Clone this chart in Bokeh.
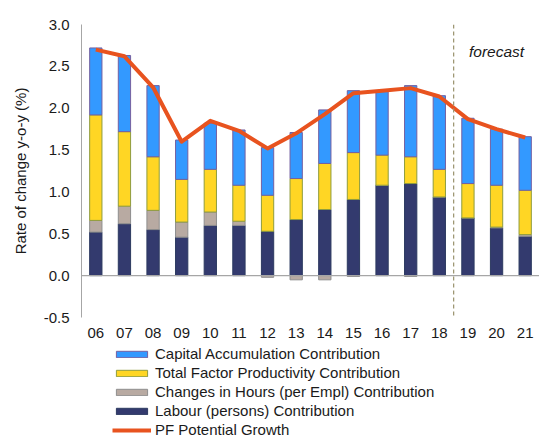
import numpy as np
from bokeh.plotting import figure
from bokeh.layouts import column
from bokeh.models import Span, Legend, LegendItem, ColumnDataSource, Range1d, FactorRange, CustomJSTickFormatter
from bokeh.core.properties import value
from bokeh.embed import file_html
from bokeh.resources import INLINE

years = ["06", "07", "08", "09", "10", "11", "12", "13", "14", "15", "16", "17", "18", "19", "20", "21"]
labour = [0.52, 0.62, 0.55, 0.46, 0.60, 0.60, 0.53, 0.67, 0.79, 0.91, 1.08, 1.10, 0.94, 0.69, 0.57, 0.47]
hours = [0.14, 0.21, 0.23, 0.18, 0.16, 0.05, -0.02, -0.05, -0.05, -0.01, 0.0, -0.01, 0.0, 0.0, 0.01, 0.02]
tfp = [1.26, 0.89, 0.64, 0.51, 0.51, 0.43, 0.43, 0.49, 0.55, 0.56, 0.36, 0.32, 0.33, 0.41, 0.50, 0.53]
capital = [0.80, 0.91, 0.85, 0.47, 0.55, 0.66, 0.57, 0.55, 0.64, 0.74, 0.77, 0.85, 0.88, 0.78, 0.67, 0.64]
potential = [2.70, 2.62, 2.25, 1.60, 1.85, 1.73, 1.52, 1.70, 1.93, 2.18, 2.21, 2.24, 2.14, 1.87, 1.75, 1.65]
forecast_start = "19"
y_ticks = [-0.5, 0.0, 0.5, 1.0, 1.5, 2.0, 2.5, 3.0]

FONT = "Liberation Sans"
# name, values, fill, outline  (stack order bottom -> top)
series = [
    ("Labour (persons) Contribution", labour, "#333a6e", "#2c3a60"),
    ("Changes in Hours (per Empl) Contribution", hours, "#b8aaa2", "#8e8e8e"),
    ("Total Factor Productivity Contribution", tfp, "#ffd624", "#8f9c3e"),
    ("Capital Accumulation Contribution", capital, "#3399ff", "#7560a0"),
]
legend_order = ["Capital Accumulation Contribution", "Total Factor Productivity Contribution",
                "Changes in Hours (per Empl) Contribution", "Labour (persons) Contribution"]
line_name = "PF Potential Growth"
line_color = "#e8531f"

p = figure(x_range=FactorRange(*years, range_padding=0), y_range=Range1d(-0.5, 3.0),
           width=539, height=344,
           min_border_left=81, min_border_top=24, min_border_right=0, min_border_bottom=27,
           output_backend="svg", toolbar_location=None, tools="")
p.outline_line_color = None
p.xgrid.visible = False
p.ygrid.visible = False

pos = np.zeros(len(years))
neg = np.zeros(len(years))
for name, vals, fill, line in series:
    v = np.array(vals)
    bottom = np.where(v >= 0, pos, neg)
    top = bottom + v
    pos = np.where(v >= 0, top, pos)
    neg = np.where(v < 0, top, neg)
    src = ColumnDataSource(dict(x=years, top=top, bottom=bottom))
    p.vbar(x="x", top="top", bottom="bottom", width=0.43, source=src,
           fill_color=fill, line_color=line, line_width=1)

p.add_layout(Span(location=0, dimension="width", line_color="#a6a6a6", line_width=1.2))
p.add_layout(Span(location=years.index(forecast_start), dimension="height", line_color="#9e9774",
                  line_width=1.3, line_dash="4 3"))

p.line(x=years, y=potential, line_color=line_color, line_width=4, line_join="round")

p.text(x=["20"], y=[2.68], text=["forecast"], text_font=value(FONT), text_font_size="15.5px",
       text_font_style="italic", text_align="center", text_baseline="middle", text_color="#1a1a1a")

p.yaxis.ticker = y_ticks
p.yaxis.formatter = CustomJSTickFormatter(code="return tick.toFixed(1);")
p.yaxis.axis_line_color = "#a6a6a6"
p.yaxis.major_tick_line_color = None
p.yaxis.minor_tick_line_color = None
p.yaxis.major_tick_out = 0
p.yaxis.major_tick_in = 0
p.yaxis.minor_tick_out = 0
p.yaxis.major_label_text_font = FONT
p.yaxis.major_label_text_font_size = "15px"
p.yaxis.major_label_text_color = "#1a1a1a"
p.yaxis.major_label_standoff = 12
p.yaxis.axis_label = "Rate of change y-o-y (%)"
p.yaxis.axis_label_text_font = FONT
p.yaxis.axis_label_text_font_size = "15px"
p.yaxis.axis_label_text_font_style = "normal"
p.yaxis.axis_label_text_color = "#1a1a1a"
p.yaxis.axis_label_standoff = 12

p.xaxis.axis_line_color = None
p.xaxis.major_tick_line_color = None
p.xaxis.minor_tick_line_color = None
p.xaxis.major_tick_out = 0
p.xaxis.major_tick_in = 0
p.xaxis.major_label_text_font = FONT
p.xaxis.major_label_text_font_size = "15px"
p.xaxis.major_label_text_color = "#1a1a1a"
p.xaxis.major_label_standoff = 10

# legend figure (legend swatches only; its sample glyphs sit outside the visible range)
lg = figure(width=539, height=95, x_range=Range1d(0, 1), y_range=Range1d(0, 1),
            min_border=0, output_backend="svg", toolbar_location=None, tools="")
lg.axis.visible = False
lg.grid.visible = False
lg.outline_line_color = None
styles = {name: (fill, line) for name, _, fill, line in series}
items = []
for name in legend_order:
    fill, line = styles[name]
    r = lg.vbar(x=[-5], top=[-5], bottom=[-5], width=0, fill_color=fill, line_color=line, line_width=1)
    items.append(LegendItem(label=value(name), renderers=[r]))
rl = lg.line(x=[-5, -5], y=[-5, -5], line_color=line_color, line_width=4)
items.append(LegendItem(label=value(line_name), renderers=[rl]))

legend = Legend(items=items, location=(31, 0), orientation="vertical",
                label_text_font=FONT, label_text_font_size="15px", label_text_color="#1a1a1a",
                label_text_baseline="middle",
                glyph_width=39, glyph_height=8, label_height=19, spacing=0, padding=0, margin=0,
                label_standoff=4, border_line_color=None, background_fill_alpha=0)
lg.add_layout(legend, "center")

layout = column(p, lg, spacing=0)
open("out.html", "w").write(file_html(layout, INLINE))
